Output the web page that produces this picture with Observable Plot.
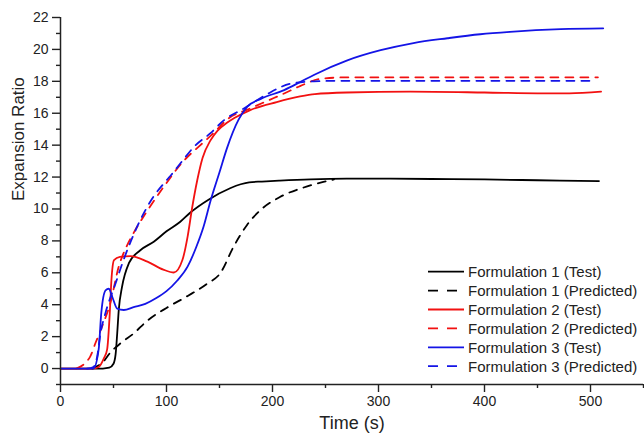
<!DOCTYPE html>
<html>
<head>
<meta charset="utf-8">
<script src="https://cdn.jsdelivr.net/npm/d3@7"></script>
<script src="https://cdn.jsdelivr.net/npm/@observablehq/plot@0.6"></script>
<style>
  html, body { margin: 0; padding: 0; background: #fff; }
  #wrap { position: relative; width: 644px; height: 438px; font-family: "Liberation Sans", Arial, sans-serif; }
  #legend { position: absolute; left: 0; top: 0; pointer-events: none; }
</style>
</head>
<body>
<div id="wrap"></div>
<script>
// Formulation 1 – measured expansion
const f1TestT = [0, 40, 46, 50, 52, 53.5, 55, 58, 64.5, 75, 88, 100, 113, 122, 140, 160, 170, 178, 190, 207, 236, 270, 300, 350, 400, 450, 508];
const f1TestY = [0, 0, 0.05, 0.3, 0.9, 2.2, 3.7, 5.1, 6.6, 7.4, 7.95, 8.6, 9.2, 9.75, 10.6, 11.3, 11.55, 11.67, 11.72, 11.78, 11.86, 11.9, 11.9, 11.88, 11.85, 11.8, 11.75];
// Formulation 1 – model prediction
const f1PredT = [30, 40, 47, 57, 69, 82, 100, 120, 138, 151, 163, 176, 189, 207, 232, 248, 258];
const f1PredY = [0, 0.4, 1.0, 1.6, 2.2, 3.0, 3.8, 4.55, 5.3, 6.0, 7.6, 9.0, 9.95, 10.75, 11.4, 11.7, 11.85];
// Formulation 2 – measured expansion
const f2TestT = [0, 30, 36, 41, 44, 46.5, 48, 50.5, 56, 66, 82, 97, 107, 115, 120, 124, 129, 134, 141.5, 148, 157, 164, 179, 204, 226, 240, 270, 330, 400, 450, 480, 510];
const f2TestY = [0, 0, 0.1, 0.65, 1.2, 3.5, 5.5, 6.8, 7.0, 7.05, 6.7, 6.2, 6.02, 6.8, 8.3, 10.0, 11.8, 13.2, 14.3, 14.9, 15.4, 15.7, 16.2, 16.7, 17.05, 17.2, 17.3, 17.35, 17.3, 17.25, 17.25, 17.35];
// Formulation 2 – model prediction
const f2PredT = [15, 28, 33, 39, 47, 55, 62, 69, 82, 97.5, 116, 132, 145, 157, 179, 196, 211, 226, 245, 270, 300, 400, 507];
const f2PredY = [0, 0.75, 1.6, 2.6, 4.1, 6.4, 7.6, 8.5, 9.9, 11.4, 13.0, 14.0, 14.8, 15.6, 16.3, 16.8, 17.24, 17.7, 18.15, 18.25, 18.25, 18.25, 18.25];
// Formulation 3 – measured expansion
const f3TestT = [0, 31, 36, 38.5, 42.5, 45.5, 48.8, 53.5, 59.7, 69, 80, 90, 100, 110, 120, 128, 135, 141.5, 150, 157, 168, 176, 189, 211, 226, 239, 270, 302, 333, 365, 396, 424, 472, 512];
const f3TestY = [0, 0, 1.2, 3.5, 4.9, 5.0, 4.5, 3.75, 3.67, 3.85, 4.05, 4.4, 4.85, 5.5, 6.4, 7.6, 8.9, 10.5, 12.3, 13.8, 15.6, 16.4, 16.9, 17.45, 17.95, 18.4, 19.3, 19.95, 20.4, 20.7, 20.95, 21.1, 21.27, 21.32];
// Formulation 3 – model prediction
const f3PredT = [25, 31, 34.6, 37.7, 42.5, 52, 60, 71, 88, 97.5, 104, 116, 126, 141.5, 154, 173, 195, 217, 239, 260, 400, 503];
const f3PredY = [0, 0.1, 0.75, 2.2, 3.5, 5.35, 6.9, 8.7, 10.8, 11.6, 12.1, 13.1, 13.9, 14.75, 15.55, 16.3, 17.2, 17.85, 18.0, 18.03, 18.03, 18.03];

const seriesNames = ["Formulation 1 (Test)", "Formulation 1 (Predicted)", "Formulation 2 (Test)", "Formulation 2 (Predicted)", "Formulation 3 (Test)", "Formulation 3 (Predicted)"];
const seriesColors = ["#000000", "#000000", "#f21111", "#f21111", "#1414e6", "#1414e6"];
const seriesDashed = [false, true, false, true, false, true];
const seriesT = [f1TestT, f1PredT, f2TestT, f2PredT, f3TestT, f3PredT];
const seriesY = [f1TestY, f1PredY, f2TestY, f2PredY, f3TestY, f3PredY];

const xMajor = [0, 100, 200, 300, 400, 500];
const xMinor = [50, 150, 250, 350, 450, 550];
const yMajor = d3.range(0, 23, 2);
const yMinor = d3.range(-1, 22, 2);

const ink = "#222";
const dash = "8,7";

const lineMarks = seriesNames.map((name, i) =>
  Plot.line(seriesT[i].map((t, j) => ({t, v: seriesY[i][j]})), {
    x: "t", y: "v", stroke: seriesColors[i], strokeWidth: 1.8,
    strokeDasharray: seriesDashed[i] ? dash : null, curve: "monotone-x"
  })
);

const chart = Plot.plot({
  width: 644, height: 438,
  marginLeft: 60, marginRight: 1, marginTop: 17, marginBottom: 54,
  style: {fontFamily: '"Liberation Sans", Arial, sans-serif', background: "#fff"},
  x: {domain: [0, 550]},
  y: {domain: [-1, 22]},
  marks: [
    ...lineMarks,
    Plot.axisX({ticks: xMajor, tickSize: 8, tickPadding: 4, fontSize: 14, label: null, stroke: ink, fill: ink, strokeWidth: 1.4}),
    Plot.axisX({ticks: xMinor, tickSize: 4, text: null, label: null, stroke: ink, strokeWidth: 1.4}),
    Plot.axisY({ticks: yMajor, tickSize: 8, tickPadding: 4, fontSize: 14, label: null, stroke: ink, fill: ink, strokeWidth: 1.4}),
    Plot.axisY({ticks: yMinor, tickSize: 4, text: null, label: null, stroke: ink, strokeWidth: 1.4}),
    Plot.ruleX([0], {stroke: ink, strokeWidth: 1.5}),
    Plot.ruleY([-1], {stroke: ink, strokeWidth: 1.5}),
    Plot.text(["Time (s)"], {frameAnchor: "bottom", dy: 44, fontSize: 18, fill: ink}),
    Plot.text(["Expansion Ratio"], {frameAnchor: "left", rotate: -90, dx: -42, fontSize: 17, fill: ink})
  ]
});

const wrap = document.getElementById("wrap");
wrap.appendChild(chart);

// Legend in the lower right of the plot area
const ns = "http://www.w3.org/2000/svg";
const leg = document.createElementNS(ns, "svg");
leg.setAttribute("id", "legend");
leg.setAttribute("width", 644);
leg.setAttribute("height", 438);
seriesNames.forEach((name, i) => {
  const cy = 271.7 + i * 18.9;
  const ln = document.createElementNS(ns, "line");
  ln.setAttribute("x1", 428); ln.setAttribute("x2", 464);
  ln.setAttribute("y1", cy); ln.setAttribute("y2", cy);
  ln.setAttribute("stroke", seriesColors[i]);
  ln.setAttribute("stroke-width", 1.8);
  if (seriesDashed[i]) ln.setAttribute("stroke-dasharray", "10,9");
  leg.appendChild(ln);
  const tx = document.createElementNS(ns, "text");
  tx.setAttribute("x", 468); tx.setAttribute("y", cy + 5.3);
  tx.setAttribute("font-size", 15);
  tx.setAttribute("fill", ink);
  tx.setAttribute("font-family", '"Liberation Sans", Arial, sans-serif');
  tx.textContent = name;
  leg.appendChild(tx);
});
wrap.appendChild(leg);
</script>
</body>
</html>
